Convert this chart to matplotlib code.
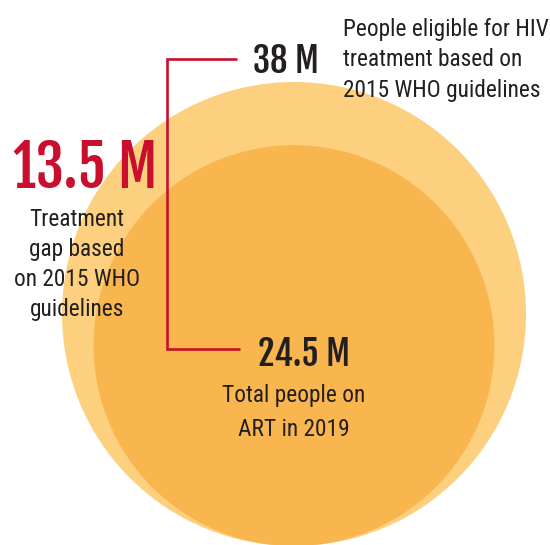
import matplotlib.pyplot as plt
from matplotlib.patches import Circle

# Data (millions of people)
valores = [38, 24.5]
rotulos_valor = ['38 M', '24.5 M']
lacuna = 13.5
rotulo_lacuna = '13.5 M'
desc_elegiveis = ['People eligible for HIV', 'treatment based on', '2015 WHO guidelines']
desc_art = ['Total people on', 'ART in 2019']
desc_lacuna = ['Treatment', 'gap based', 'on 2015 WHO', 'guidelines']

# Colors
cores = ['#fdd07f', '#f9b54e']
vermelho = '#c8102e'
texto = '#231f20'
fonte = ['Roboto Condensed', 'DejaVu Sans']
fonte_num = ['Fjalla One', 'Roboto Condensed', 'DejaVu Sans']

plt.rcParams['font.family'] = fonte

fig = plt.figure(figsize=(5.5, 5.45), dpi=100)
ax = fig.add_axes([0, 0, 1, 1])
ax.set_xlim(0, 550)
ax.set_ylim(545, 0)
ax.axis('off')

# Bubbles sitting on a common bottom line, radius ~ cube root of value
raio_max = 232
cx, base = 294, 546
for v, cor in zip(valores, cores):
    r = raio_max * (v / max(valores)) ** (1 / 3)
    ax.add_patch(Circle((cx, base - r), r, color=cor, lw=0))

# Red bracket linking the two totals
ax.plot([237, 167, 167, 240], [59, 59, 349, 349], color=vermelho, lw=1.9,
        solid_joinstyle='miter', solid_capstyle='butt')

# Big numbers
ax.text(253, 73, rotulos_valor[0], fontsize=25, color=texto,
        va='baseline', family=fonte_num)
ax.text(258, 366, rotulos_valor[1], fontsize=25, color=texto,
        va='baseline', family=fonte_num)
ax.text(13, 188, rotulo_lacuna, fontsize=41, color=vermelho,
        va='baseline', family=fonte_num)

# Descriptions
for i, linha in enumerate(desc_elegiveis):
    ax.text(343, 36 + i * 30.5, linha, fontsize=16.8, color=texto, va='baseline')
for i, linha in enumerate(desc_art):
    ax.text(294, 402 + i * 34, linha, fontsize=16.8, color=texto, va='baseline', ha='center')
for i, linha in enumerate(desc_lacuna):
    ax.text(77, 226 + i * 30, linha, fontsize=16.8, color=texto, va='baseline', ha='center')

fig.savefig('out.png', dpi=100)
